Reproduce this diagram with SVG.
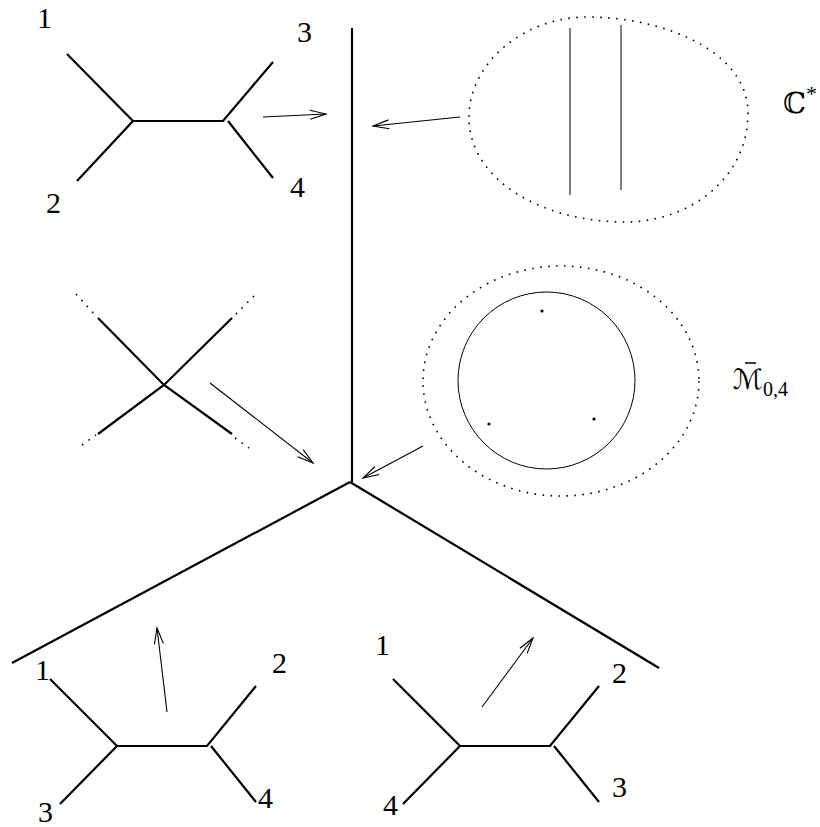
<svg xmlns="http://www.w3.org/2000/svg" width="820" height="827" viewBox="0 0 820 827">
<style>
.thick{stroke:#000;stroke-width:2.2;fill:none;stroke-linecap:butt}
.thin{stroke:#000;stroke-width:1;fill:none}
.dot{stroke:#000;stroke-width:1.6;fill:none;stroke-dasharray:1.6 6.4}
.arr{stroke:#000;stroke-width:1.1;fill:none;marker-end:url(#ah)}
text{fill:#000}
.lbl{font-family:"Liberation Serif",serif;font-size:30px}
</style>
<defs>
<marker id="ah" markerUnits="userSpaceOnUse" markerWidth="30" markerHeight="20" viewBox="-20 -10 30 20" refX="0" refY="0" orient="auto">
<path d="M-16,-4.5 L0,0 L-16,4.5" fill="none" stroke="#000" stroke-width="1.1"/>
</marker>
</defs>
<g id="moduli-space">
<line class="thick" x1="352" y1="28" x2="352" y2="482"/>
<line class="thick" x1="350" y1="482" x2="12" y2="663"/>
<line class="thick" x1="350" y1="482" x2="659" y2="668"/>
</g>
<g id="tree-top">
<path class="thick" d="M67,54 L133,121 L77,181 M133,121 L223,121 L273,62 M228,121 L273,178"/>
<text class="lbl" x="37" y="28">1</text>
<text class="lbl" x="297" y="42">3</text>
<text class="lbl" x="46" y="213">2</text>
<text class="lbl" x="290" y="197">4</text>
</g>
<g id="cstar-region">
<path class="dot" d="M469,117 C469,62 525,17 587,17 C665,17 748,52 748,113 C748,178 690,222 625,222 C545,222 469,182 469,117 Z"/>
<line class="thin" x1="570" y1="28" x2="570" y2="195" stroke-width="1.3"/>
<line class="thin" x1="621" y1="25" x2="621" y2="190" stroke-width="1.3"/>
<text x="783" y="113" font-family="DejaVu Serif, DejaVu Sans, serif" font-size="29">ℂ<tspan font-family="Liberation Serif, serif" font-size="22" dy="-12">*</tspan></text>
</g>
<g id="tree-cross">
<path class="thick" d="M98,318 L164,385 L232,434 M232,318 L164,385 L98,434"/>
<path class="dot" d="M76,294 L96,316 M254,296 L234,316 M82,445 L96,435 M235,438 L249,448"/>
</g>
<g id="m04-region">
<ellipse class="dot" cx="561" cy="381" rx="138" ry="115"/>
<circle class="thin" cx="546.5" cy="380.5" r="88.5" stroke-width="1.3"/>
<circle cx="542" cy="311" r="1.6" fill="#000"/>
<circle cx="489" cy="424" r="1.6" fill="#000"/>
<circle cx="594" cy="419" r="1.6" fill="#000"/>
<line x1="745" y1="363" x2="756" y2="363" stroke="#000" stroke-width="1.5"/>
<text x="733" y="389" font-family="DejaVu Serif, DejaVu Sans, serif" font-size="28" font-style="italic">ℳ<tspan font-family="Liberation Serif, serif" font-size="20" font-style="normal" dy="7">0,4</tspan></text>
</g>
<g id="tree-bottom-left">
<path class="thick" d="M50,679 L117,746 L60,804 M117,746 L207,746 L256,686 M211,746 L256,802"/>
<text class="lbl" x="35" y="680">1</text>
<text class="lbl" x="272" y="673">2</text>
<text class="lbl" x="38" y="822">3</text>
<text class="lbl" x="258" y="808">4</text>
</g>
<g id="tree-bottom-right">
<path class="thick" d="M393,679 L460,746 L403,804 M460,746 L550,746 L599,686 M554,746 L599,802"/>
<text class="lbl" x="375" y="655">1</text>
<text class="lbl" x="612" y="683">2</text>
<text class="lbl" x="612" y="797">3</text>
<text class="lbl" x="383" y="815">4</text>
</g>
<g id="connectors">
<line class="arr" x1="263" y1="117" x2="326" y2="114"/>
<line class="arr" x1="460" y1="117" x2="373" y2="126"/>
<line class="arr" x1="210" y1="383" x2="313" y2="463"/>
<line class="arr" x1="423" y1="446" x2="363" y2="478"/>
<line class="arr" x1="167" y1="712" x2="157" y2="628"/>
<line class="arr" x1="482" y1="707" x2="533" y2="638"/>
</g>
</svg>
